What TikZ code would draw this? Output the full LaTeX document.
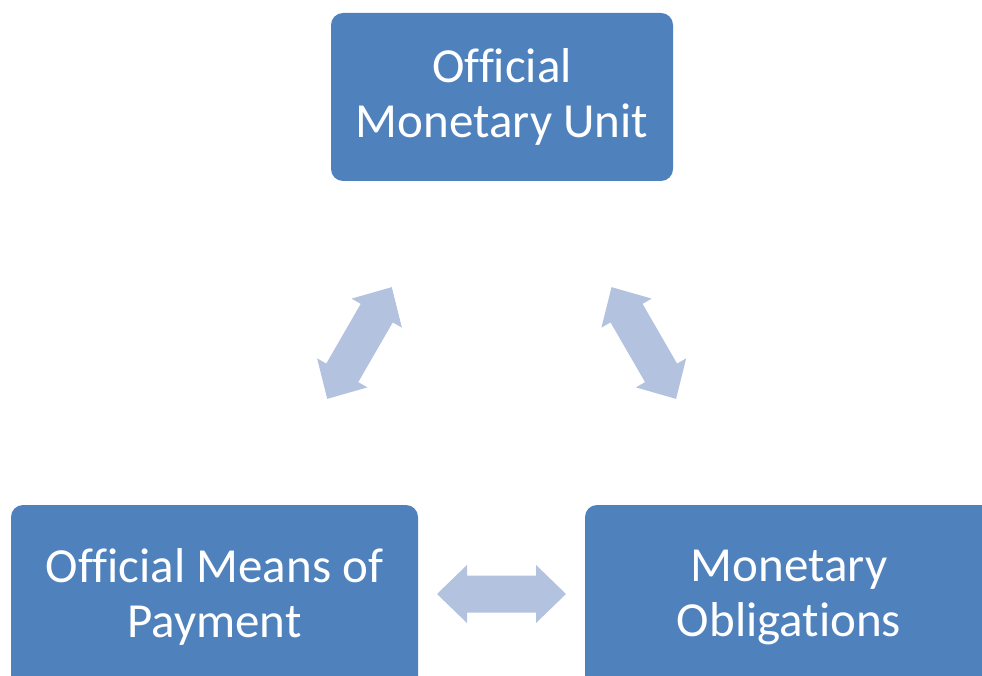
\documentclass[tikz,border=0pt]{standalone}
\usepackage{fontspec}
\setmainfont{Carlito}[Ligatures=NoCommon]
\definecolor{boxblue}{HTML}{4F81BD}
\definecolor{arrowblue}{HTML}{B3C2DE}
\tikzset{
  conceptbox/.style={fill=boxblue, draw=none, rounded corners=12pt, text=white,
    align=center, font=\fontsize{49}{55}\selectfont, inner sep=0pt}
}
\newcommand\mydblarrow[3]{%
  \fill[arrowblue, shift={(#1,#2)}, rotate=#3]
    (64.5,0) -- (34.5,29) -- (34.5,18.5) -- (-34.5,18.5) -- (-34.5,29)
    -- (-64.5,0) -- (-34.5,-29) -- (-34.5,-18.5) -- (34.5,-18.5) -- (34.5,-29) -- cycle;}
\begin{document}
\begin{tikzpicture}[x=1pt,y=-1pt]
\useasboundingbox (0,0) rectangle (982,676);
\clip (0,0) rectangle (982,676);
\fill[white] (0,0) rectangle (982,676);
\node[conceptbox, minimum width=342pt, minimum height=168pt] (unit) at (502,97)
  {Official\\Monetary Unit};
\node[conceptbox, minimum width=407pt, minimum height=184pt] (means) at (214.5,597)
  {Official Means of\\Payment};
\node[conceptbox, minimum width=408pt, minimum height=184pt] (oblig) at (789,597)
  {Monetary\\Obligations};
\mydblarrow{359.5}{343}{60}
\mydblarrow{643.8}{343}{-60}
\mydblarrow{501.5}{594}{0}
\end{tikzpicture}
\end{document}
